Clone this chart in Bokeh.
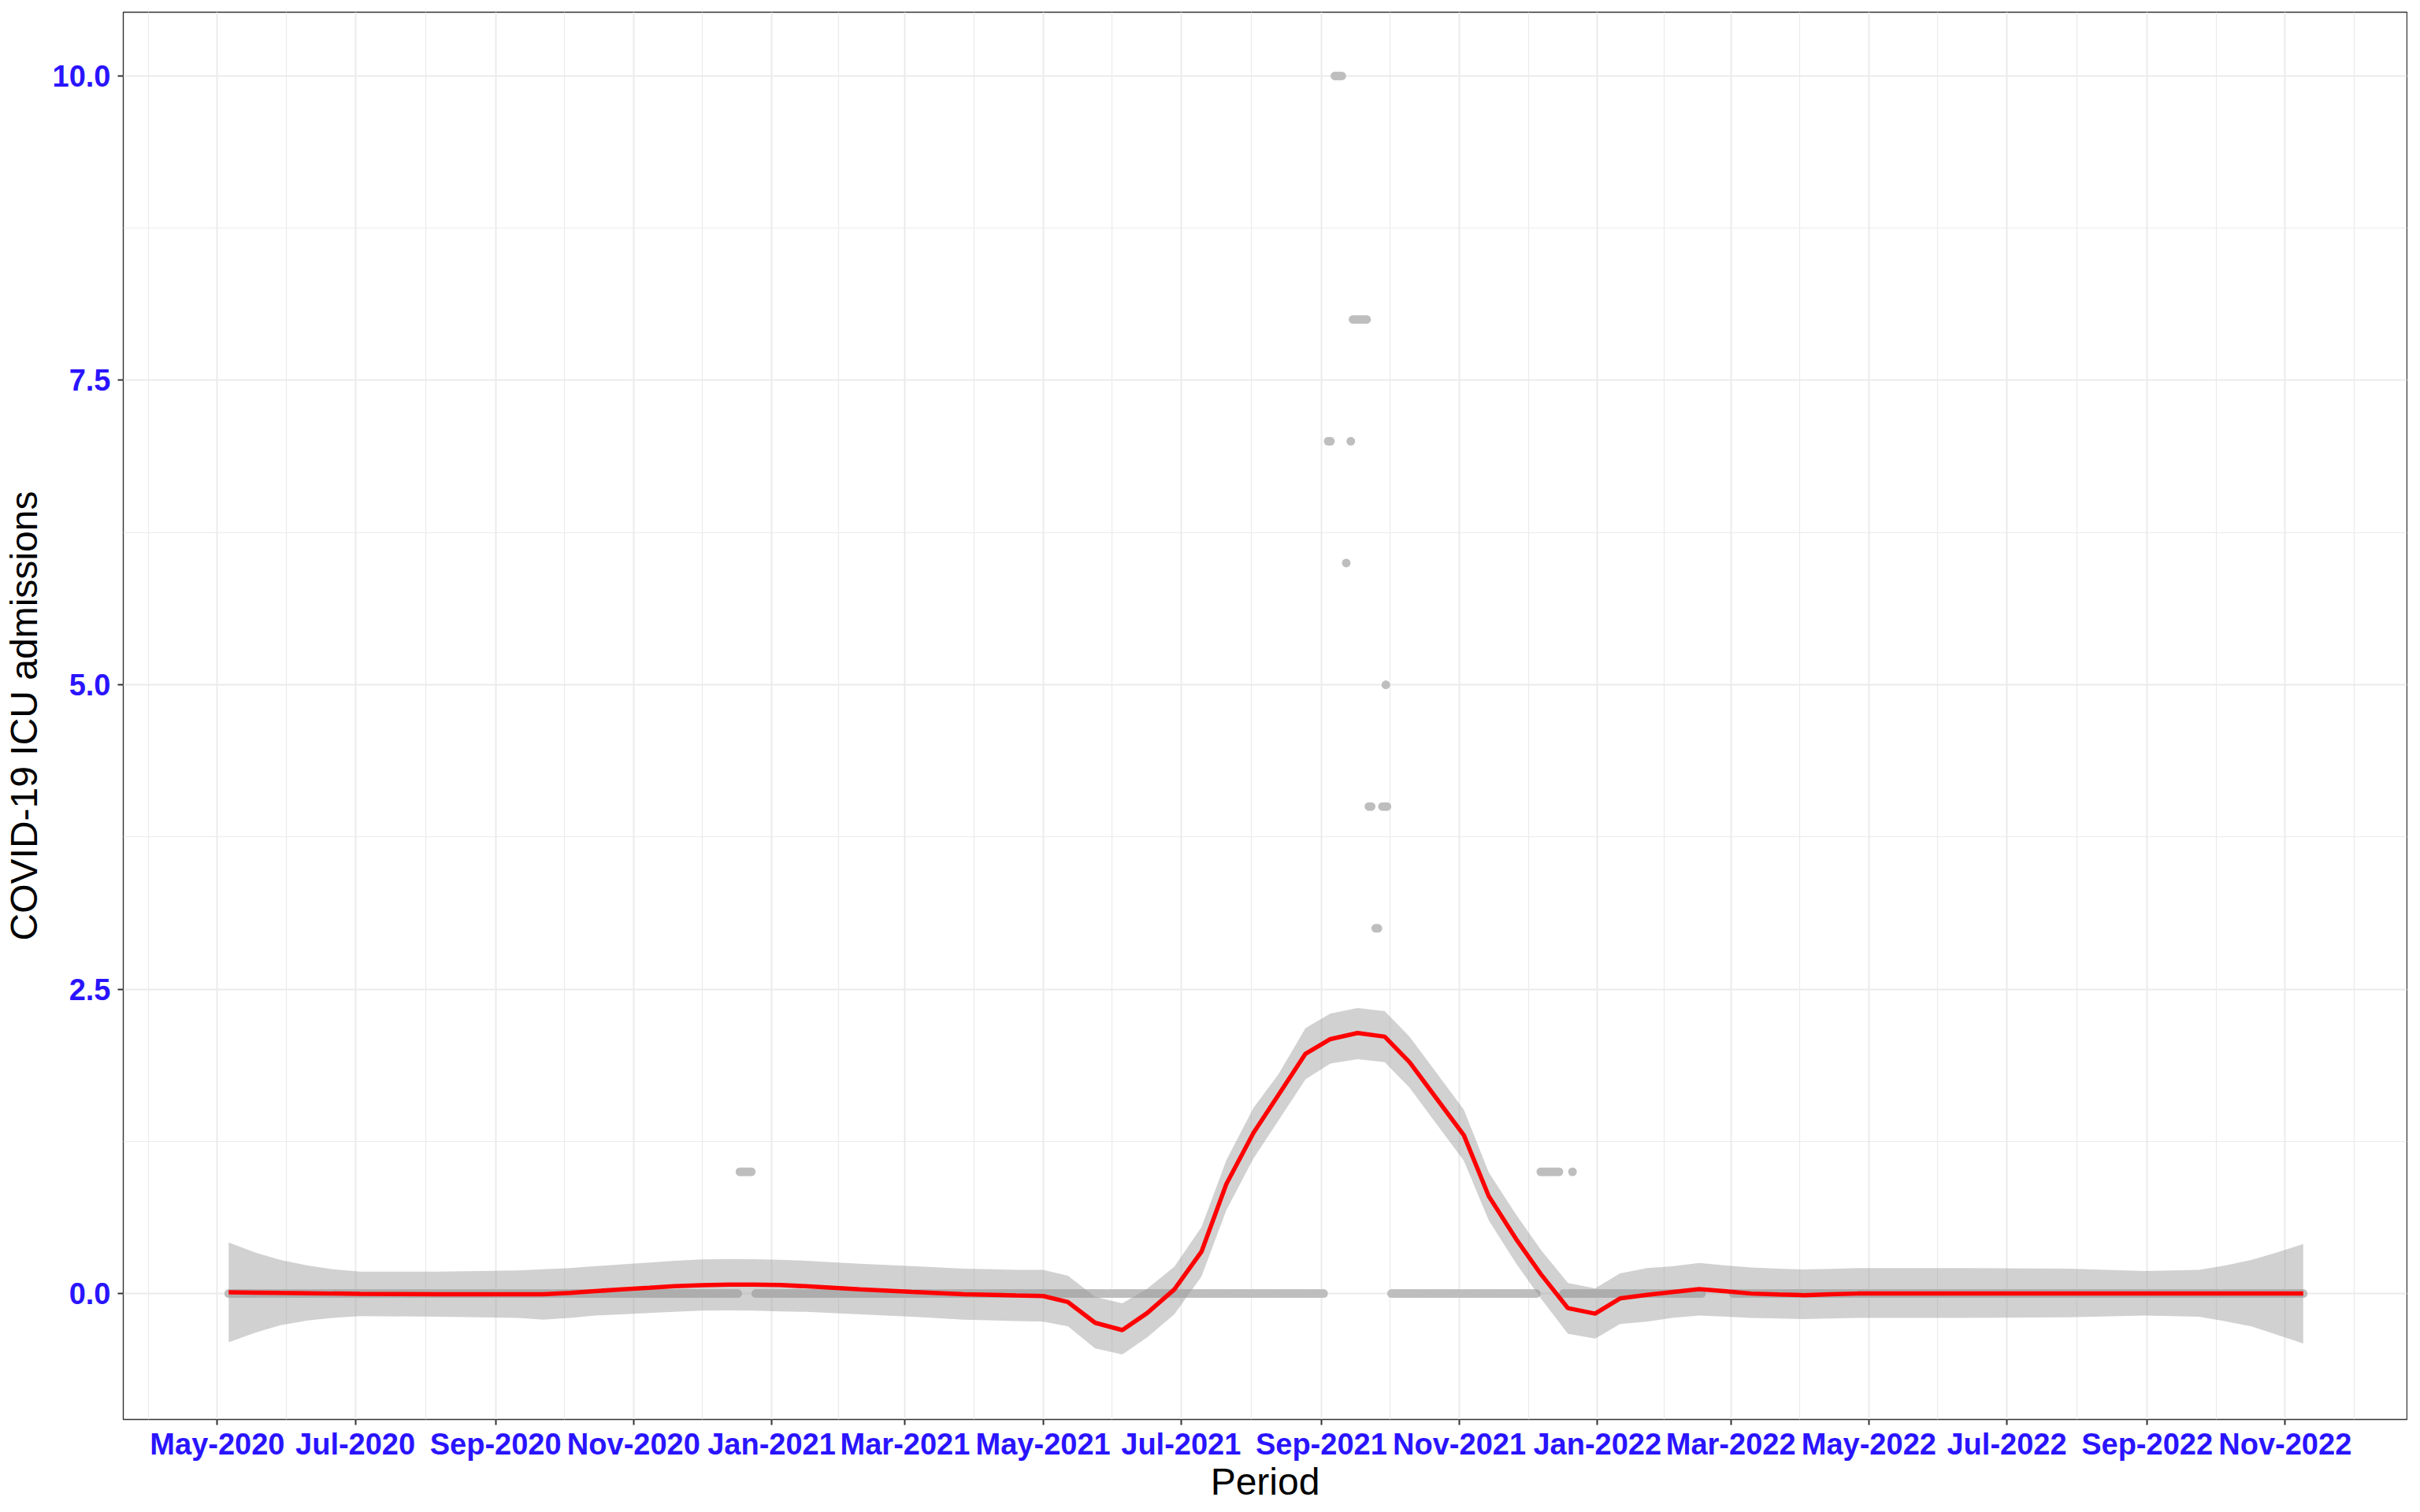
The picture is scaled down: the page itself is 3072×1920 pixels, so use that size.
import pandas as pd
from datetime import datetime
from bokeh.plotting import figure
from bokeh.models import FixedTicker, Range1d, DatetimeTickFormatter, ColumnDataSource
from bokeh.embed import file_html
from bokeh.resources import INLINE

# ---------------- data ----------------
# runs of consecutive days whose ICU admissions were 0
zero_run_start = ["2020-05-06", "2020-12-25", "2021-10-02", "2021-12-17", "2022-03-02"]
zero_run_end = ["2020-12-17", "2021-09-02", "2021-12-05", "2022-02-16", "2022-11-09"]

# days with non-zero admissions
spike_dates = [
    "2020-12-18", "2020-12-19", "2020-12-20", "2020-12-21", "2020-12-22", "2020-12-23",
    "2021-09-04", "2021-09-05",
    "2021-09-07", "2021-09-08", "2021-09-09", "2021-09-10",
    "2021-09-12",
    "2021-09-14",
    "2021-09-15", "2021-09-16", "2021-09-17", "2021-09-18", "2021-09-19", "2021-09-20", "2021-09-21",
    "2021-09-22", "2021-09-23",
    "2021-09-25", "2021-09-26",
    "2021-09-28", "2021-09-29", "2021-09-30",
    "2021-09-29 12:00",
    "2021-12-07", "2021-12-08", "2021-12-09", "2021-12-10", "2021-12-11", "2021-12-12",
    "2021-12-13", "2021-12-14", "2021-12-15",
    "2021-12-21",
]
spike_values = [
    1, 1, 1, 1, 1, 1,
    7, 7,
    10, 10, 10, 10,
    6,
    7,
    8, 8, 8, 8, 8, 8, 8,
    4, 4,
    3, 3,
    4, 4, 4,
    5,
    1, 1, 1, 1, 1, 1, 1, 1, 1,
    1,
]

# loess smooth with confidence band
smooth_dates = [
    "2020-05-06", "2020-05-18", "2020-05-29", "2020-06-10", "2020-06-21", "2020-07-03",
    "2020-08-07", "2020-09-11", "2020-09-22", "2020-10-04", "2020-10-15", "2020-10-27",
    "2020-11-08", "2020-11-19", "2020-12-01", "2020-12-13", "2020-12-24", "2021-01-05",
    "2021-01-16", "2021-02-09", "2021-03-04", "2021-03-27", "2021-04-19", "2021-05-01",
    "2021-05-12", "2021-05-24", "2021-06-05", "2021-06-16", "2021-06-28", "2021-07-10",
    "2021-07-21", "2021-08-02", "2021-08-13", "2021-08-25", "2021-09-05", "2021-09-17",
    "2021-09-29", "2021-10-10", "2021-10-22", "2021-11-03", "2021-11-14", "2021-11-26",
    "2021-12-07", "2021-12-19", "2021-12-31", "2022-01-11", "2022-01-23", "2022-02-03",
    "2022-02-15", "2022-02-27", "2022-03-10", "2022-03-22", "2022-04-02", "2022-04-14",
    "2022-04-26", "2022-06-11", "2022-07-28", "2022-08-31", "2022-09-24", "2022-10-05",
    "2022-10-17", "2022-10-28", "2022-11-09",
]
smooth_fit = [
    0.010, 0.008, 0.005, 0.003, 0.000, -0.002,
    -0.005, -0.006, -0.006, 0.005, 0.020, 0.034,
    0.047, 0.060, 0.068, 0.073, 0.073, 0.070,
    0.060, 0.035, 0.014, -0.005, -0.015, -0.020,
    -0.070, -0.240, -0.300, -0.160, 0.034, 0.344,
    0.900, 1.320, 1.630, 1.970, 2.090, 2.140,
    2.110, 1.900, 1.600, 1.300, 0.800, 0.450,
    0.160, -0.120, -0.165, -0.040, -0.011, 0.012,
    0.037, 0.018, 0.000, -0.008, -0.013, -0.006,
    0.000, 0.000, 0.000, 0.000, 0.000, 0.000,
    0.000, 0.000, 0.000,
]
smooth_lower = [
    -0.400, -0.320, -0.260, -0.220, -0.200, -0.185,
    -0.190, -0.200, -0.215, -0.200, -0.180, -0.170,
    -0.160, -0.150, -0.140, -0.138, -0.140, -0.146,
    -0.150, -0.170, -0.190, -0.215, -0.225, -0.230,
    -0.270, -0.450, -0.500, -0.360, -0.170, 0.140,
    0.685, 1.110, 1.420, 1.760, 1.890, 1.925,
    1.900, 1.690, 1.390, 1.090, 0.600, 0.250,
    -0.040, -0.330, -0.370, -0.250, -0.230, -0.200,
    -0.180, -0.190, -0.200, -0.205, -0.210, -0.205,
    -0.200, -0.200, -0.195, -0.180, -0.190, -0.225,
    -0.270, -0.335, -0.410,
]
smooth_upper = [
    0.420, 0.335, 0.275, 0.230, 0.200, 0.180,
    0.180, 0.190, 0.200, 0.210, 0.225, 0.240,
    0.255, 0.270, 0.280, 0.283, 0.282, 0.278,
    0.270, 0.245, 0.225, 0.205, 0.195, 0.195,
    0.146, -0.026, -0.080, 0.040, 0.220, 0.545,
    1.095, 1.525, 1.800, 2.180, 2.300, 2.345,
    2.320, 2.110, 1.810, 1.510, 0.995, 0.650,
    0.360, 0.086, 0.043, 0.166, 0.209, 0.224,
    0.252, 0.230, 0.215, 0.205, 0.198, 0.203,
    0.209, 0.210, 0.205, 0.185, 0.195, 0.228,
    0.275, 0.335, 0.407,
]

x_tick_labels = ["May-2020", "Jul-2020", "Sep-2020", "Nov-2020", "Jan-2021", "Mar-2021",
                 "May-2021", "Jul-2021", "Sep-2021", "Nov-2021", "Jan-2022", "Mar-2022",
                 "May-2022", "Jul-2022", "Sep-2022", "Nov-2022"]
y_tick_values = [0.0, 2.5, 5.0, 7.5, 10.0]
y_tick_labels = ["0.0", "2.5", "5.0", "7.5", "10.0"]

# ---------------- build sources ----------------
pt_dates = []
pt_vals = []
for s, e in zip(zero_run_start, zero_run_end):
    for d in pd.date_range(s, e, freq="D"):
        pt_dates.append(d)
        pt_vals.append(0)
for d, v in zip(spike_dates, spike_values):
    pt_dates.append(pd.Timestamp(d))
    pt_vals.append(v)
pts = ColumnDataSource(dict(x=pt_dates, y=pt_vals))

sm = ColumnDataSource(dict(x=pd.to_datetime(smooth_dates), fit=smooth_fit,
                           lo=smooth_lower, hi=smooth_upper))

def ms(ts):
    return float(pd.Timestamp(ts).value // 10**6)

major = [pd.to_datetime(l, format="%b-%Y") for l in x_tick_labels]
ext = [major[0] - pd.DateOffset(months=2)] + major + [major[-1] + pd.DateOffset(months=2)]
x_major = [ms(t) for t in major]
x_minor = [(ms(a) + ms(b)) / 2 for a, b in zip(ext[:-1], ext[1:])]

# ---------------- figure ----------------
TICK_BLUE = "#2a14ff"
FONT = "Liberation Sans"

p = figure(width=3056, height=1910, x_axis_type="datetime",
           output_backend="svg", toolbar_location=None,
           x_range=Range1d(start=datetime(2020, 3, 20, 10), end=datetime(2022, 12, 24, 21)),
           y_range=Range1d(start=-1.034, end=10.5235),
           min_border_left=155, min_border_right=1, min_border_top=15, min_border_bottom=107)

p.background_fill_color = "white"
p.border_fill_color = "white"
p.outline_line_color = "#333333"
p.outline_line_width = 1.4

p.scatter("x", "y", source=pts, size=11, fill_color="#bebebe", line_color=None)
p.varea(x="x", y1="lo", y2="hi", source=sm, fill_color="#999999", fill_alpha=0.45)
p.line("x", "fit", source=sm, line_color="#ff0000", line_width=5.5)

p.xaxis.ticker = FixedTicker(ticks=x_major, minor_ticks=x_minor)
p.xaxis.formatter = DatetimeTickFormatter(
    milliseconds="%b-%Y", seconds="%b-%Y", minsec="%b-%Y", minutes="%b-%Y",
    hourmin="%b-%Y", hours="%b-%Y", days="%b-%Y", months="%b-%Y", years="%b-%Y")
p.xaxis.major_label_overrides = {int(t): l for t, l in zip(x_major, x_tick_labels)}
p.yaxis.ticker = FixedTicker(ticks=y_tick_values,
                             minor_ticks=[(a + b) / 2 for a, b in zip(y_tick_values[:-1], y_tick_values[1:])])
p.yaxis.major_label_overrides = {v: l for v, l in zip(y_tick_values, y_tick_labels)}

p.xaxis.axis_label = "Period"
p.yaxis.axis_label = "COVID-19 ICU admissions"

for ax in (p.xaxis, p.yaxis):
    ax.axis_line_color = None
    ax.major_tick_line_color = "#333333"
    ax.major_tick_line_width = 2
    ax.major_tick_out = 7
    ax.major_tick_in = 0
    ax.minor_tick_line_color = None
    ax.major_label_text_font = FONT
    ax.major_label_text_font_style = "bold"
    ax.major_label_text_font_size = "38px"
    ax.major_label_text_color = TICK_BLUE
    ax.axis_label_text_font = FONT
    ax.axis_label_text_font_style = "normal"
    ax.axis_label_text_font_size = "48px"
    ax.axis_label_text_color = "black"

p.xaxis.major_label_standoff = 3
p.xaxis.axis_label_standoff = -3
p.yaxis.major_label_standoff = 9
p.yaxis.axis_label_standoff = 7

for g in (p.xgrid, p.ygrid):
    g.grid_line_color = "#ebebeb"
    g.grid_line_width = 2
    g.minor_grid_line_color = "#ebebeb"
    g.minor_grid_line_width = 1.2

open("out.html", "w").write(file_html(p, INLINE))
